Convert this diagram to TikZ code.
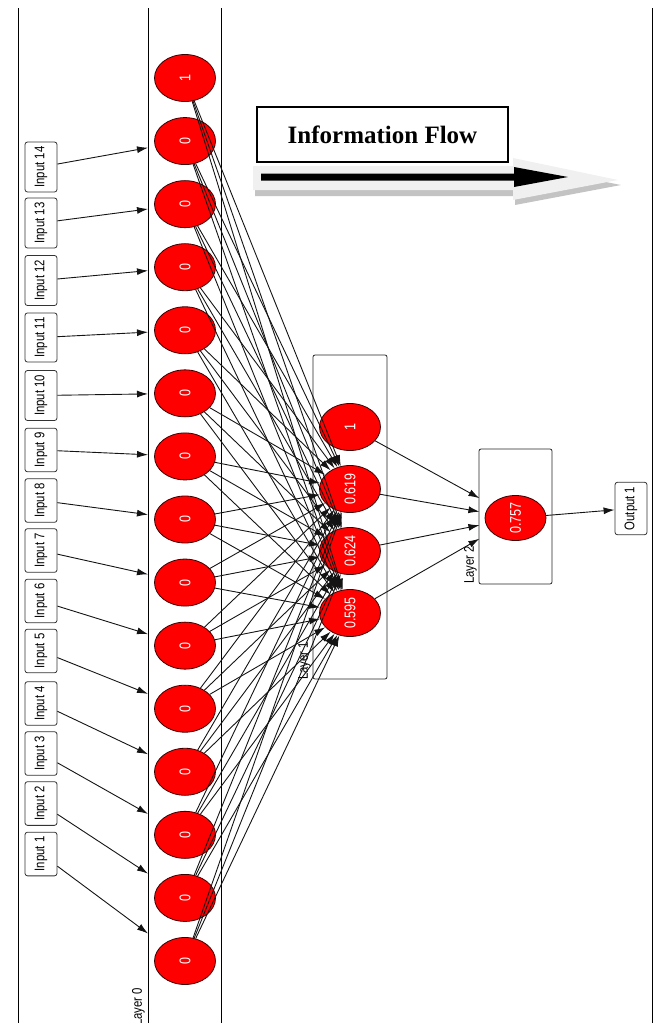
\documentclass[tikz,border=0pt]{standalone}
\usepackage{fontspec}
\usepackage{graphicx}
\setmainfont{Liberation Serif}
\newfontfamily\nnfont[FakeStretch=0.81]{Liberation Sans}
\usetikzlibrary{arrows.meta,calc,shapes.geometric}
\definecolor{nred}{RGB}{255,0,0}
\definecolor{nborder}{RGB}{60,0,0}
\definecolor{edgec}{RGB}{20,20,20}
\definecolor{lightarrow}{RGB}{240,240,240}
\definecolor{shadowarrow}{RGB}{195,195,195}
\begin{document}
\begin{tikzpicture}[x=1pt,y=-1pt,
  neuron/.style={ellipse, draw=nborder, fill=nred, line width=0.8pt,
    minimum width=61pt, minimum height=47pt, inner sep=0pt, text=white,
    font=\nnfont\fontsize{15.5}{15.5}\selectfont},
  inbox/.style={draw=black!80, fill=white, rounded corners=2.5pt, rotate=90,
    inner xsep=4.5pt, inner ysep=0pt, minimum height=32pt, line width=0.8pt,
    font=\nnfont\fontsize{14}{14}\selectfont},
  layerbox/.style={draw=black!85, line width=0.8pt, rounded corners=2pt},
  lbl/.style={rotate=90, inner sep=0pt, font=\nnfont\fontsize{14}{14}\selectfont},
  edge/.style={draw=edgec, line width=0.9pt},
  arr/.style={edge, -{Latex[length=11pt,width=7pt]}},
  frameline/.style={draw=black, line width=0.9pt}
]
\useasboundingbox (0,0) rectangle (657,1023);
\clip (0,0) rectangle (657,1023);

% frame and layer 0 box
\draw[frameline] (18,8) -- (18,1030);
\draw[frameline] (652,8) -- (652,1030);
\draw[frameline] (148,8) -- (148,1027) -- (221,1027) -- (221,8);

% layer boxes
\draw[layerbox] (313,355) rectangle (387,679);
\draw[layerbox] (479,449) rectangle (552,584);

% layer labels
\node[lbl, anchor=south west] (l0) at (145,1026) {Layer 0};
\node[lbl, anchor=south west] (l1) at (311,680) {Layer 1};
\node[lbl, anchor=south west] (l2) at (477,584) {Layer 2};

% information flow
\fill[shadowarrow] (255,172) -- (515,172) -- (515,164) -- (621,185) -- (515,205) -- (515,196) -- (255,196) -- cycle;
\fill[lightarrow] (253,166) -- (513,166) -- (513,158) -- (618,180) -- (513,200) -- (513,190) -- (253,190) -- cycle;
\fill[black] (261,173.5) -- (514,173.5) -- (514,167) -- (568,177) -- (514,187) -- (514,180.5) -- (261,180.5) -- cycle;
\node[draw=black, line width=1.3pt, fill=white, minimum width=251pt, minimum height=55pt,
  font=\fontsize{25}{25}\selectfont\bfseries] (flow) at (382.5,134.5) {Information Flow};

% layer 0 neurons
\foreach \i in {0,...,14} {
  \pgfmathsetmacro\yy{78+63.07*\i}
  \ifnum\i=0
    \node[neuron] (n\i) at (185,\yy) {\rotatebox{90}{1}};
  \else
    \node[neuron] (n\i) at (185,\yy) {\rotatebox{90}{0}};
  \fi
}

% layer 1 neurons
\node[neuron] (m1) at (350,427) {\rotatebox{90}{1}};
\node[neuron] (m2) at (350,489) {\rotatebox{90}{0.619}};
\node[neuron] (m3) at (350,551) {\rotatebox{90}{0.624}};
\node[neuron] (m4) at (350,613) {\rotatebox{90}{0.595}};

% layer 2 neuron
\node[neuron, minimum height=45pt] (o) at (515.5,518) {\rotatebox{90}{0.757}};

% output
\node[inbox] (out) at (631,508.5) {Output 1};

% inputs
\foreach \k/\yy in {1/854, 2/803.5, 3/753.5, 4/703.5, 5/651, 6/601, 7/550.5,
                    8/500.5, 9/450, 10/395.5, 11/337.5, 12/280.5, 13/223, 14/167} {
  \node[inbox] (in\k) at (41,\yy) {Input \k};
  \pgfmathtruncatemacro\t{15-\k}
  \coordinate (t\k) at ($(in\k)!0.743!(n\t)$);
  \draw[arr] (in\k) -- (t\k);
}

% layer 0 -> layer 1
\foreach \i in {0,...,14} {
  \foreach \j in {2,3,4} {
    \draw[arr] (n\i) -- (m\j);
  }
}

% layer 1 -> layer 2
\foreach \j in {1,2,3,4} {
  \coordinate (u\j) at ($(m\j)!0.782!(o)$);
  \draw[arr] (m\j) -- (u\j);
}

% layer 2 -> output
\draw[arr] (o) -- (out);
\end{tikzpicture}
\end{document}
